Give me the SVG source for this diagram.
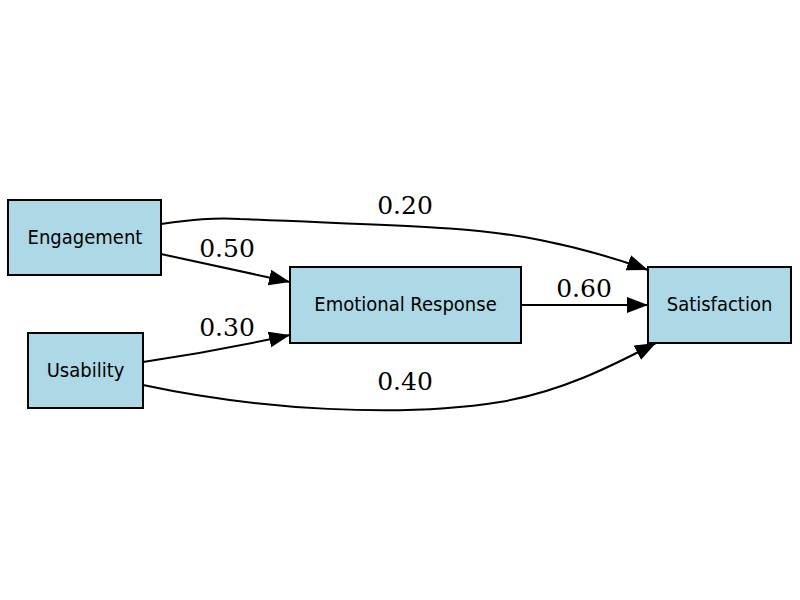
<svg xmlns="http://www.w3.org/2000/svg" width="800" height="600" viewBox="0 0 800 600">
<defs>
<style>
.node rect{fill:#add8e6;stroke:#000;stroke-width:2}
.node text{font-family:"DejaVu Sans Condensed","DejaVu Sans",sans-serif;font-stretch:condensed;font-size:20px;text-anchor:middle;fill:#000}
.edge{fill:none;stroke:#000;stroke-width:2}
.lbl{font-family:"DejaVu Serif","Liberation Serif",serif;font-size:25px;text-anchor:middle;fill:#000}
</style>
<marker id="ah" markerUnits="userSpaceOnUse" markerWidth="24" markerHeight="18" refX="21" refY="8" orient="auto">
<path d="M0,0 L21,8 L0,16 Z" fill="#000"/>
</marker>
</defs>
<rect width="800" height="600" fill="#fff"/>
<g id="connectors">
<path class="edge" marker-end="url(#ah)" d="M161,254 L290,282"/>
<path class="edge" marker-end="url(#ah)" d="M143,362 C190,355 240,346 290,335"/>
<path class="edge" marker-end="url(#ah)" d="M521,305 L648,305"/>
<path class="edge" marker-end="url(#ah)" d="M161,224 C190,220 215,217 240,219 C400,226 470,226 540,240 C580,248 615,258 648,270"/>
<path class="edge" marker-end="url(#ah)" d="M143,385 C260,410 400,418 500,402 C560,392 610,367 656,343"/>
<text class="lbl" x="227" y="257">0.50</text>
<text class="lbl" x="227" y="336">0.30</text>
<text class="lbl" x="584" y="297">0.60</text>
<text class="lbl" x="405" y="214">0.20</text>
<text class="lbl" x="405" y="390">0.40</text>
</g>
<g id="engagement" class="node"><rect x="8" y="200" width="153" height="75"/><text x="85" y="244">Engagement</text></g>
<g id="usability" class="node"><rect x="28" y="333" width="115" height="75"/><text x="85.5" y="377">Usability</text></g>
<g id="emotional" class="node"><rect x="290" y="267" width="231" height="76"/><text x="405.5" y="311">Emotional Response</text></g>
<g id="satisfaction" class="node"><rect x="648" y="267" width="143" height="76"/><text x="719.5" y="311">Satisfaction</text></g>
</svg>
